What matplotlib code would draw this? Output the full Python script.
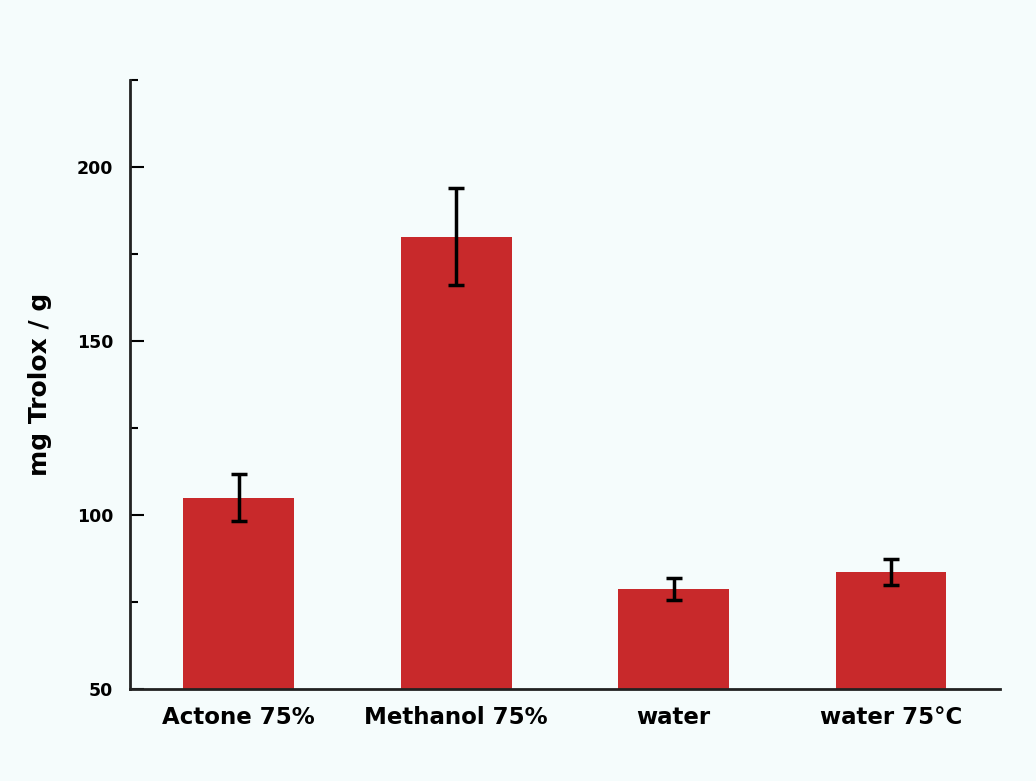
import matplotlib.pyplot as plt
from matplotlib.ticker import MultipleLocator

# data
labels = ['Actone 75%', 'Methanol 75%', 'water', 'water 75°C']
values = [105, 180, 78.7, 83.6]
errors = [6.7, 14, 3.2, 3.7]

bg = '#f5fcfc'
plt.rcParams['font.family'] = 'DejaVu Sans'
plt.rcParams['font.weight'] = 'bold'

fig = plt.figure(figsize=(10.36, 7.81), dpi=100, facecolor=bg)
ax = fig.add_axes([0.1255, 0.1178, 0.8395, 0.7798], facecolor=bg)

x = range(len(labels))
ax.bar(x, values, width=0.51, color='#c8292b', zorder=2)
ax.errorbar(x, values, yerr=errors, fmt='none', ecolor='black',
            elinewidth=2.5, capsize=6, capthick=2.5, zorder=3)

ax.set_xlim(-0.5, 3.5)
ax.set_ylim(50, 225)
ax.yaxis.set_major_locator(MultipleLocator(50))
ax.yaxis.set_minor_locator(MultipleLocator(25))

ax.spines['top'].set_visible(False)
ax.spines['right'].set_visible(False)
for s in ('left', 'bottom'):
    ax.spines[s].set_linewidth(2)
    ax.spines[s].set_color('#222222')

ax.tick_params(axis='y', which='major', direction='in', length=10, width=1.5,
               labelsize=12.5, pad=12)
ax.tick_params(axis='y', which='minor', direction='in', length=6, width=1.5)
ax.tick_params(axis='x', length=0, labelsize=16.5, pad=12)
ax.set_xticks(list(x))
ax.set_xticklabels(labels, fontweight='bold')
for t in ax.get_yticklabels():
    t.set_fontweight('bold')

ax.set_ylabel('mg Trolox / g', fontsize=18, fontweight='bold', labelpad=18)

fig.savefig('out.png', dpi=100, facecolor=bg)
